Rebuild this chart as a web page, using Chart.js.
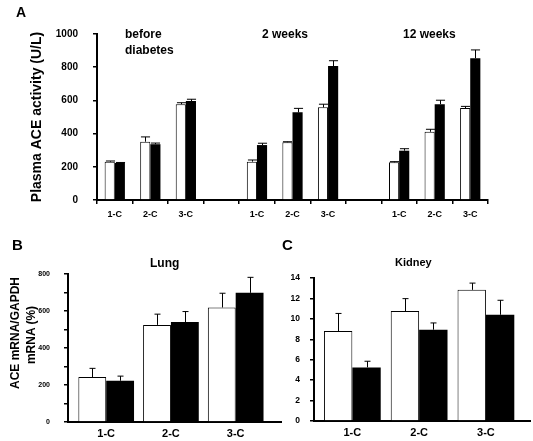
<!DOCTYPE html>
<html><head><meta charset="utf-8">
<script src="https://cdn.jsdelivr.net/npm/chart.js@4"></script>
<style>
html,body{margin:0;padding:0;background:#fff;}
#wrap{position:relative;width:533px;height:441px;overflow:hidden;font-family:'Liberation Sans',Arial,sans-serif;font-weight:bold;color:#000;}
canvas{position:absolute;}
.t{position:absolute;white-space:nowrap;line-height:1;}
.r{position:absolute;white-space:nowrap;line-height:1;transform:translate(-50%,-50%) rotate(-90deg);}
</style></head><body>
<div id="wrap">
<canvas id="cA" width="533" height="222" style="left:0;top:0"></canvas>
<canvas id="cB" width="290" height="219" style="left:0;top:222px"></canvas>
<canvas id="cC" width="243" height="219" style="left:290px;top:222px"></canvas>
<div class="t" style="left:16px;top:5px;font-size:14px">A</div>
<div class="t" style="left:125px;top:27.4px;font-size:12px;line-height:15.5px">before<br>diabetes</div>
<div class="t" style="left:262px;top:27.4px;font-size:12px;line-height:15.5px">2 weeks</div>
<div class="t" style="left:403px;top:27.4px;font-size:12px;line-height:15.5px">12 weeks</div>
<div class="t" style="left:12px;top:236.6px;font-size:15px">B</div>
<div class="t" style="left:282px;top:237.3px;font-size:15px">C</div>
<div class="t" style="left:150px;top:256.5px;font-size:12px">Lung</div>
<div class="t" style="left:395px;top:257.2px;font-size:11px">Kidney</div>
<div class="r" style="left:14.5px;top:333px;font-size:12px">ACE mRNA/GAPDH</div>
<div class="r" style="left:31px;top:335px;font-size:12px">mRNA (%)</div>
</div>
<script>
// ---- Panel A: plasma ACE activity (U/L)
const catsA = ['1-C','2-C','3-C','','1-C','2-C','3-C','','1-C','2-C','3-C'];
const whiteA = [231, 351, 577, null, 231, 348, 558, null, 227, 411, 554];
const whiteSemA = [4, 29, 9, null, 10, 3, 19, null, 4, 15, 10];
const blackA = [223, 336, 596, null, 331, 528, 807, null, 297, 577, 854];
const blackSemA = [3, 7, 11, null, 11, 24, 32, null, 12, 24, 50];

// ---- Panel B: Lung ACE mRNA/GAPDH mRNA (%)
const catsB = ['1-C','2-C','3-C'];
const whiteB = [243, 525, 619];
const whiteSemB = [47, 58, 77];
const blackB = [223, 540, 698];
const blackSemB = [25, 57, 84];

// ---- Panel C: Kidney
const catsC = ['1-C','2-C','3-C'];
const whiteC = [8.81, 10.76, 12.84];
const whiteSemC = [1.72, 1.22, 0.66];
const blackC = [5.25, 8.94, 10.40];
const blackSemC = [0.60, 0.66, 1.42];

const F = "'Liberation Sans', Arial, sans-serif";

const errorBars = {
  id: 'errorBars',
  afterDatasetsDraw(chart, args, opts) {
    const ctx = chart.ctx;
    const yS = chart.scales.y;
    ctx.save();
    ctx.strokeStyle = '#000';
    ctx.lineWidth = opts.lineWidth || 1;
    chart.data.datasets.forEach((ds, di) => {
      const meta = chart.getDatasetMeta(di);
      meta.data.forEach((bar, i) => {
        const m = ds.means[i], e = ds.errors[i];
        if (m == null || e == null) return;
        const yTop = yS.getPixelForValue(m + e);
        const cap = opts.capWidth != null ? opts.capWidth : bar.width * opts.capRatio;
        const x = Math.round(bar.x) + 0.5;
        ctx.beginPath();
        ctx.moveTo(x, bar.y);
        ctx.lineTo(x, yTop);
        ctx.moveTo(x - cap / 2, yTop);
        ctx.lineTo(x + cap / 2, yTop);
        ctx.stroke();
      });
    });
    ctx.restore();
  }
};

function yAxis(min, max, step, width, pad, fontSize, labelEvery) {
  return {
    min: min, max: max,
    ticks: {
      stepSize: step, color: '#000', padding: pad,
      font: {family: F, size: fontSize, weight: 'bold'},
      callback: v => (labelEvery ? (Math.abs(v % labelEvery) < 1e-9 ? v : '') : v)
    },
    grid: {display: true, drawOnChartArea: false, drawTicks: true, tickLength: 4, color: '#000', lineWidth: 1.5},
    border: {display: true, color: '#000', width: 2},
    afterFit: s => { s.width = width; }
  };
}

function linearX(cats, min, max, height, fontSize) {
  return {
    type: 'linear', min: min, max: max, offset: false,
    afterBuildTicks: s => { s.ticks = cats.map((_, i) => ({value: i})); },
    ticks: {
      color: '#000', padding: 5, autoSkip: false, maxRotation: 0,
      font: {family: F, size: fontSize, weight: 'bold'},
      callback: v => cats[v]
    },
    grid: {display: false, drawTicks: false, offset: false},
    border: {display: true, color: '#000', width: 2},
    afterFit: s => { s.height = height; }
  };
}

const white = {backgroundColor: '#fff', borderColor: '#000', borderWidth: 1, borderSkipped: 'bottom'};
const black = {backgroundColor: '#000', borderColor: '#000', borderWidth: 0};

new Chart(document.getElementById('cA'), {
  type: 'bar',
  data: {
    labels: catsA,
    datasets: [
      Object.assign({data: whiteA, means: whiteA, errors: whiteSemA}, white),
      Object.assign({data: blackA, means: blackA, errors: blackSemA}, black)
    ]
  },
  options: {
    responsive: false, animation: false,
    layout: {padding: {left: 0, right: 45, top: 34, bottom: 0}},
    datasets: {bar: {barPercentage: 1, categoryPercentage: 0.57}},
    plugins: {legend: {display: false}, tooltip: {enabled: false}, errorBars: {capRatio: 0.9, lineWidth: 1}},
    scales: {
      x: {
        grid: {display: true, drawOnChartArea: false, drawTicks: true, tickLength: 4, color: '#000', lineWidth: 1.5, offset: true},
        border: {display: true, color: '#000', width: 2},
        ticks: {color: '#000', font: {family: F, size: 9, weight: 'bold'}, padding: 5, maxRotation: 0, autoSkip: false},
        afterFit: s => { s.height = 22; }
      },
      y: Object.assign(yAxis(0, 1000, 200, 97, 15, 10, 0), {
        title: {display: true, text: 'Plasma ACE activity (U/L)', color: '#000',
                font: {family: F, size: 14, weight: 'bold'}, padding: {top: 29, bottom: 0}}
      })
    }
  },
  plugins: [errorBars]
});

new Chart(document.getElementById('cB'), {
  type: 'bar',
  data: {
    datasets: [
      Object.assign({data: whiteB.map((v, i) => ({x: i, y: v})), means: whiteB, errors: whiteSemB}, white),
      Object.assign({data: blackB.map((v, i) => ({x: i, y: v})), means: blackB, errors: blackSemB}, black)
    ]
  },
  options: {
    responsive: false, animation: false,
    layout: {padding: {left: 0, right: 9, top: 52, bottom: 0}},
    datasets: {bar: {barPercentage: 1, categoryPercentage: 0.86}},
    plugins: {legend: {display: false}, tooltip: {enabled: false}, errorBars: {capWidth: 6, lineWidth: 1}},
    scales: {
      x: linearX(catsB, -0.59, 2.70, 19, 11),
      y: yAxis(0, 800, 100, 68, 14, 7, 200)
    }
  },
  plugins: [errorBars]
});

new Chart(document.getElementById('cC'), {
  type: 'bar',
  data: {
    datasets: [
      Object.assign({data: whiteC.map((v, i) => ({x: i, y: v})), means: whiteC, errors: whiteSemC}, white),
      Object.assign({data: blackC.map((v, i) => ({x: i, y: v})), means: blackC, errors: blackSemC}, black)
    ]
  },
  options: {
    responsive: false, animation: false,
    layout: {padding: {left: 0, right: 3, top: 56, bottom: 0}},
    datasets: {bar: {barPercentage: 1, categoryPercentage: 0.85}},
    plugins: {legend: {display: false}, tooltip: {enabled: false}, errorBars: {capWidth: 6, lineWidth: 1}},
    scales: {
      x: linearX(catsC, -0.574, 2.66, 20, 11),
      y: yAxis(0, 14, 2, 24, 10, 8.5, 0)
    }
  },
  plugins: [errorBars]
});
</script>
</body></html>
